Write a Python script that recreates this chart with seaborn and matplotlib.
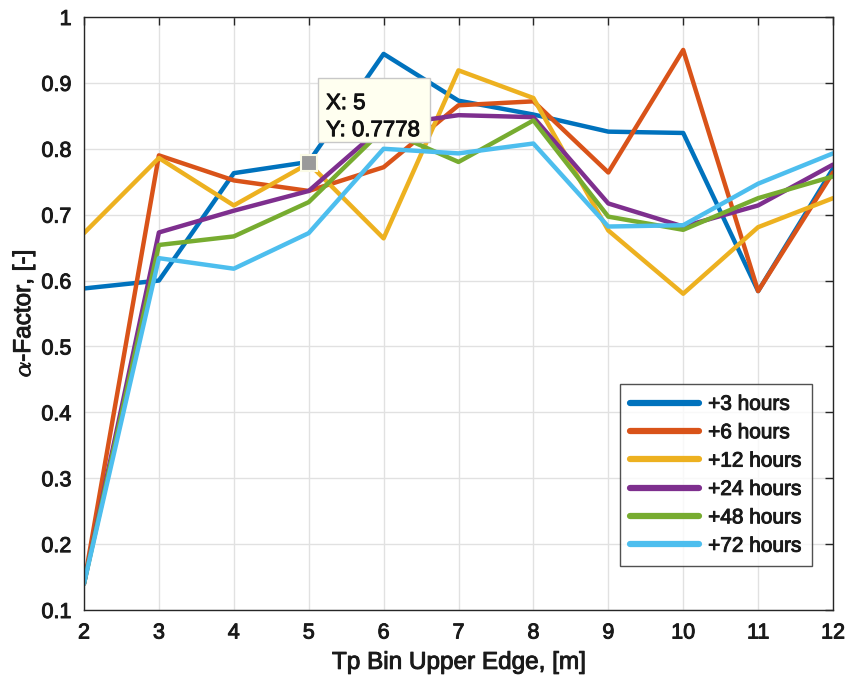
import numpy as np
import pandas as pd
import matplotlib
matplotlib.use("Agg")
import matplotlib.pyplot as plt
import matplotlib.patheffects as pe
from matplotlib.patches import Rectangle
from matplotlib.lines import Line2D
import seaborn as sns

# Tp bin upper edges [m]
tp_edges = [2, 3, 4, 5, 6, 7, 8, 9, 10, 11, 12]

# alpha-factor per forecast horizon
alpha_3h = [0.588, 0.600, 0.763, 0.780, 0.944, 0.873, 0.852, 0.826, 0.824, 0.584, 0.770]
alpha_6h = [0.140, 0.790, 0.752, 0.736, 0.772, 0.866, 0.872, 0.764, 0.950, 0.584, 0.764]
alpha_12h = [0.672, 0.786, 0.714, 0.7778, 0.664, 0.919, 0.877, 0.676, 0.580, 0.681, 0.725]
alpha_24h = [0.140, 0.673, 0.706, 0.736, 0.835, 0.851, 0.848, 0.717, 0.682, 0.714, 0.776]
alpha_48h = [0.140, 0.654, 0.667, 0.719, 0.830, 0.780, 0.843, 0.697, 0.677, 0.725, 0.758]
alpha_72h = [0.140, 0.634, 0.618, 0.672, 0.800, 0.793, 0.808, 0.682, 0.684, 0.747, 0.793]

horizons = ["+3 hours", "+6 hours", "+12 hours", "+24 hours", "+48 hours", "+72 hours"]
colors = ["#0072BD", "#D95319", "#EDB120", "#7E2F8E", "#77AC30", "#4DBEEE"]

# data tip
tip_x = 5
tip_y = 0.7778

series = [alpha_3h, alpha_6h, alpha_12h, alpha_24h, alpha_48h, alpha_72h]
df = pd.concat(
    [pd.DataFrame({"Tp": tp_edges, "alpha": vals, "horizon": name})
     for name, vals in zip(horizons, series)],
    ignore_index=True,
)

sns.set_theme(style="white")
plt.rcParams["font.family"] = ["Liberation Sans", "DejaVu Sans"]
plt.rcParams["mathtext.fontset"] = "cm"

TXT = "#1a1a1a"
heavy = [pe.withStroke(linewidth=0.7, foreground=TXT)]

fig = plt.figure(figsize=(8.46, 6.84), dpi=100)
ax = fig.add_axes([84 / 846, 1 - 610 / 684, (833 - 84) / 846, (610 - 17) / 684])

palette = dict(zip(horizons, colors))
sns.lineplot(data=df, x="Tp", y="alpha", hue="horizon", hue_order=horizons,
             palette=palette, linewidth=3.2, sort=False, ax=ax, legend=False)

ax.set_xlim(2, 12)
ax.set_ylim(0.1, 1.0)
ax.set_xticks(tp_edges)
ax.set_xticklabels([str(v) for v in tp_edges])
yt = np.round(np.arange(0.1, 1.01, 0.1), 1)
ax.set_yticks(yt)
ax.set_yticklabels(["1" if v == 1.0 else f"{v:.1f}" for v in yt])

ax.grid(True, color="#e1e1e1", linewidth=1.0)
ax.set_axisbelow(True)
for s in ax.spines.values():
    s.set_color("#262626")
    s.set_linewidth(1.0)
ax.tick_params(direction="in", length=6, width=1.0, color="#262626",
               top=True, right=True, labelsize=15.5, labelcolor=TXT, pad=9)
for lab in ax.get_xticklabels() + ax.get_yticklabels():
    lab.set_path_effects(heavy)

xl = ax.set_xlabel("Tp Bin Upper Edge, [m]", fontsize=17.5, color=TXT, labelpad=6)
yl = ax.set_ylabel(r"$\alpha$-Factor, [-]", fontsize=17.5, color=TXT, labelpad=3)
xl.set_path_effects(heavy)
yl.set_path_effects(heavy)

handles = [Line2D([0], [0], color=c, lw=4.5) for c in colors]
leg = ax.legend(handles, horizons, loc="lower right", bbox_to_anchor=(0.972, 0.074),
                borderaxespad=0, fontsize=15, frameon=True, fancybox=False,
                edgecolor="#262626", handlelength=3.3, handletextpad=0.45,
                labelspacing=0.45, borderpad=0.5)
leg.get_frame().set_linewidth(1.0)
for t in leg.get_texts():
    t.set_color(TXT)
    t.set_path_effects(heavy)

# data tip marker and box
ax.plot([tip_x], [tip_y], marker="s", markersize=12, markerfacecolor="#9a9a9a",
        markeredgecolor="#fbfbe6", markeredgewidth=1.5, zorder=6)
bx0, bx1 = 2 + (318 - 84) / 74.9, 2 + (430 - 84) / 74.9
by0, by1 = 1 - (142 - 17) / 658, 1 - (78 - 17) / 658
ax.add_patch(Rectangle((bx0, by0), bx1 - bx0, by1 - by0, facecolor="#fffff0",
                       edgecolor="#c8c8c8", linewidth=1.0, zorder=7))
for ypx, s in [(103.5, f"X: {tip_x}"), (130.5, f"Y: {tip_y:.4f}")]:
    ax.text(2 + (326 - 84) / 74.9, 1 - (ypx - 17) / 658, s,
            fontsize=16, va="center", ha="left", color="#111111", zorder=8,
            path_effects=[pe.withStroke(linewidth=0.7, foreground="#111111")])

fig.savefig("out.png", dpi=100)
